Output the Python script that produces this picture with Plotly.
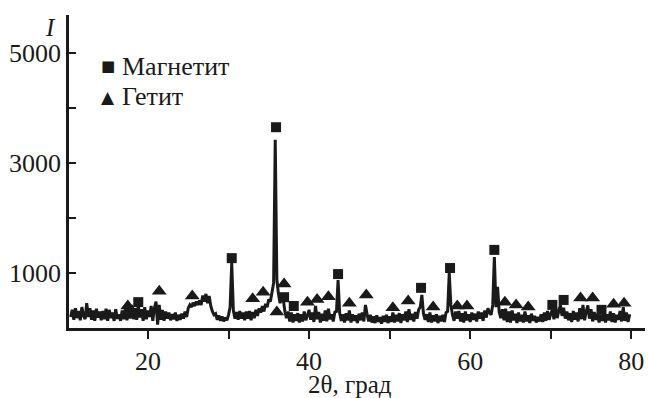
import plotly.graph_objects as go

# XRD pattern: intensity sampled every 0.2 deg from 10.4 to 79.8 (2-theta)
start_2theta = 10.4
step_2theta = 0.2
intensity = [
    200, 330, 150, 360, 180, 310, 140, 380, 220, 160,   # 10.4-12.2
    450, 200, 360, 150, 320, 130, 350, 190, 300, 140,   # 12.4-14.2
    310, 160, 350, 130, 330, 180, 280, 130, 340, 170,   # 14.4-16.2
    250, 130, 320, 160, 350, 140, 390, 170, 420, 160,   # 16.4-18.2
    360, 150, 410, 190, 340, 130, 380, 160, 320, 200,   # 18.4-20.2
    400, 130, 360, 480, 60, 420, 150, 330, 130, 300,    # 20.4-22.2
    170, 280, 140, 250, 160, 280, 130, 240, 150, 260,   # 22.4-24.2
    170, 300, 200, 360, 420, 380, 460, 400, 480, 420,   # 24.4-26.2
    500, 420, 590, 480, 620, 450, 580, 400, 300, 240,   # 26.4-28.2
    260, 150, 230, 130, 210, 120, 190, 140, 240, 380,   # 28.4-30.2
    1180, 320, 170, 290, 150, 310, 170, 280, 140, 300,  # 30.4-32.2
    170, 310, 140, 290, 180, 330, 220, 360, 280, 400,   # 32.4-34.2
    300, 440, 380, 520, 480, 650, 820, 3420, 880, 620,  # 34.4-36.2
    450, 580, 520, 300, 180, 300, 120, 280, 100, 250,   # 36.4-38.2
    130, 270, 100, 250, 120, 300, 140, 230, 330, 150,   # 38.4-40.2
    280, 110, 400, 160, 290, 100, 260, 130, 320, 120,   # 40.4-42.2
    350, 160, 250, 120, 290, 300, 870, 270, 130, 250,   # 42.4-44.2
    100, 270, 140, 320, 100, 250, 130, 230, 90, 260,    # 44.4-46.2
    140, 280, 120, 420, 250, 120, 240, 100, 210, 90,    # 46.4-48.2
    230, 110, 200, 80, 220, 110, 240, 90, 210, 110,     # 48.4-50.2
    280, 100, 240, 120, 270, 90, 250, 140, 300, 110,    # 50.4-52.2
    340, 150, 260, 120, 290, 170, 330, 380, 600, 260,   # 52.4-54.2
    150, 250, 110, 280, 100, 230, 120, 250, 90, 220,    # 54.4-56.2
    120, 240, 110, 280, 300, 1000, 420, 240, 130, 300,  # 56.4-58.2
    170, 310, 120, 270, 100, 300, 140, 250, 110, 280,   # 58.4-60.2
    150, 260, 120, 300, 170, 280, 130, 320, 190, 360,   # 60.4-62.2
    280, 240, 420, 1290, 380, 750, 290, 180, 340, 140,  # 62.4-64.2
    350, 110, 300, 100, 320, 140, 260, 90, 280, 120,    # 64.4-66.2
    240, 100, 300, 120, 230, 90, 260, 130, 220, 100,    # 66.4-68.2
    200, 120, 250, 110, 280, 130, 310, 150, 260, 330,   # 68.4-70.2
    160, 380, 180, 310, 420, 220, 370, 170, 300, 140,   # 70.4-72.2
    270, 110, 310, 150, 280, 120, 360, 160, 420, 140,   # 72.4-74.2
    300, 410, 170, 340, 120, 290, 150, 260, 100, 240,   # 74.4-76.2
    130, 280, 100, 250, 140, 300, 110, 270, 100, 240,   # 76.4-78.2
    150, 310, 120, 380, 130, 280, 110, 250,             # 78.4-79.8
]
two_theta = [round(start_2theta + step_2theta * i, 1) for i in range(len(intensity))]

# Phase markers (Magnetite = squares, Goethite = triangles)
magnetite_x = [18.8, 30.4, 35.9, 36.9, 38.1, 43.6, 53.9, 57.5, 63.0, 70.2, 71.6, 76.3]
magnetite_y = [470, 1270, 3650, 560, 400, 980, 730, 1090, 1420, 420, 510, 330]
goethite_x = [17.5, 21.4, 25.5, 33.0, 34.3, 36.0, 36.9, 39.8, 41.0, 42.4, 45.0, 47.1,
              50.4, 52.3, 55.4, 58.4, 59.6, 64.3, 65.7, 67.2, 73.7, 75.2, 77.8, 79.1]
goethite_y = [400, 670, 580, 530, 650, 290, 800, 470, 520, 570, 450, 600,
              370, 490, 380, 400, 400, 470, 420, 380, 545, 545, 430, 450]

x_ticks = [20, 30, 40, 50, 60, 70, 80]
x_labels = ["20", "", "40", "", "60", "", "80"]
y_ticks = [1000, 2000, 3000, 4000, 5000]
y_labels = ["1000", "", "3000", "", "5000"]
legend_names = ["Магнетит", "Гетит"]

FONT = "Liberation Serif"
INK = "#1a1a1a"
W, H = 649, 398
ML, MR, MT, MB = 69, 4, 15, 70
PW, PH = W - ML - MR, H - MT - MB


def px(xp):
    return (xp - ML) / PW


def py(yp):
    return (H - MB - yp) / PH


fig = go.Figure()
fig.add_trace(go.Scatter(x=two_theta, y=intensity, mode="lines",
                         line=dict(color=INK, width=3, simplify=False), showlegend=False,
                         hoverinfo="skip"))
fig.add_trace(go.Scatter(x=magnetite_x, y=magnetite_y, mode="markers", name=legend_names[0],
                         marker=dict(symbol="square", size=10, color=INK), showlegend=False))
fig.add_trace(go.Scatter(x=goethite_x, y=goethite_y, mode="markers", name=legend_names[1],
                         marker=dict(symbol="triangle-up", size=13, color=INK), showlegend=False))

annotations = [
    dict(text="<i>I</i>", xref="paper", yref="paper", x=px(50), y=py(28),
         xanchor="center", yanchor="middle", showarrow=False, font=dict(size=25)),
    dict(text="2θ, град", xref="paper", yref="paper", x=px(350), y=py(384),
         xanchor="center", yanchor="middle", showarrow=False, font=dict(size=25)),
    # legend (glyph keys + labels)
    dict(text="■", xref="paper", yref="paper", x=px(108), y=py(66),
         xanchor="center", yanchor="middle", showarrow=False,
         font=dict(size=15, family="DejaVu Sans")),
    dict(text="▲", xref="paper", yref="paper", x=px(108), y=py(97),
         xanchor="center", yanchor="middle", showarrow=False,
         font=dict(size=17, family="DejaVu Sans")),
    dict(text=legend_names[0], xref="paper", yref="paper", x=px(120), y=py(66),
         xanchor="left", yanchor="middle", showarrow=False, font=dict(size=26)),
    dict(text=legend_names[1], xref="paper", yref="paper", x=px(120), y=py(97),
         xanchor="left", yanchor="middle", showarrow=False, font=dict(size=26)),
]

fig.update_layout(
    width=W, height=H,
    margin=dict(l=ML, r=MR, t=MT, b=MB),
    paper_bgcolor="white", plot_bgcolor="white",
    font=dict(family=FONT, size=26, color=INK),
    showlegend=False,
    xaxis=dict(range=[10.2, 81.7], showline=True, linecolor=INK, linewidth=2.5,
               ticks="outside", ticklen=8, tickwidth=2, tickcolor=INK,
               tickvals=x_ticks, ticktext=x_labels, showgrid=False, zeroline=False,
               tickfont=dict(size=26, family=FONT)),
    yaxis=dict(range=[0, 5690], showline=True, linecolor=INK, linewidth=2.5,
               ticks="inside", ticklen=7, tickwidth=2, tickcolor=INK,
               tickvals=y_ticks, ticktext=y_labels, showgrid=False, zeroline=False,
               tickfont=dict(size=26, family=FONT)),
    annotations=annotations,
)

fig.write_html("out.html", config={"displayModeBar": False},
               post_script="document.body.style.margin='0';")
